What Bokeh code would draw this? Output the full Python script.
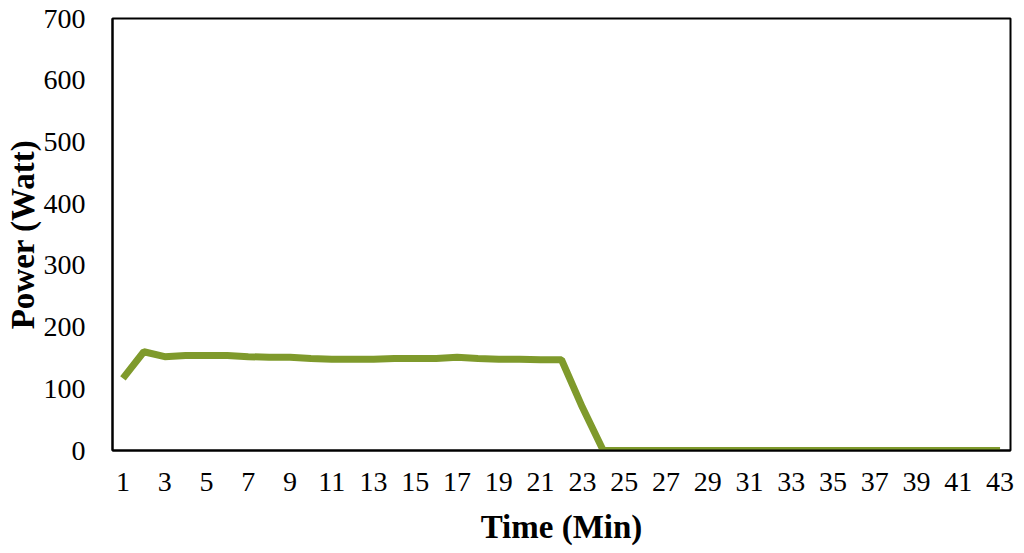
from bokeh.plotting import figure
from bokeh.models import FixedTicker, Range1d
from bokeh.embed import file_html
from bokeh.resources import INLINE

minutes = list(range(1, 44))
power = [117, 160, 152, 154, 154, 154, 152, 151, 151, 149, 148, 148, 148, 149, 149, 149, 151, 149, 148, 148, 147, 147, 70] + [0] * 20
x_ticks = list(range(1, 44, 2))
y_ticks = list(range(0, 701, 100))

p = figure(width=1016, height=550, output_backend="svg", toolbar_location=None,
           x_range=Range1d(0.5, 43.5), y_range=Range1d(0, 700),
           min_border_left=112, min_border_top=18, min_border_right=6, min_border_bottom=100)
p.line(minutes, power, line_color="#7f9a2c", line_width=7)

p.xgrid.visible = False
p.ygrid.visible = False
p.outline_line_color = "black"
p.outline_line_width = 2

for ax in (p.xaxis, p.yaxis):
    ax.major_tick_line_color = None
    ax.minor_tick_line_color = None
    ax.axis_line_color = "black"
    ax.axis_line_width = 2
    ax.major_label_text_font = "Liberation Serif"
    ax.major_label_text_font_size = "28px"
    ax.major_label_text_color = "black"
    ax.axis_label_text_font = "Liberation Serif"
    ax.axis_label_text_font_size = "33px"
    ax.axis_label_text_font_style = "bold"
    ax.axis_label_text_color = "black"

p.xaxis.ticker = FixedTicker(ticks=x_ticks)
p.yaxis.ticker = FixedTicker(ticks=y_ticks)
p.xaxis.axis_label = "Time (Min)"
p.yaxis.axis_label = "Power (Watt)"
p.yaxis.major_label_standoff = 21
p.xaxis.major_label_standoff = 16
p.xaxis.axis_label_standoff = 15
p.yaxis.axis_label_standoff = 0

open("out.html", "w").write(file_html(p, INLINE))
